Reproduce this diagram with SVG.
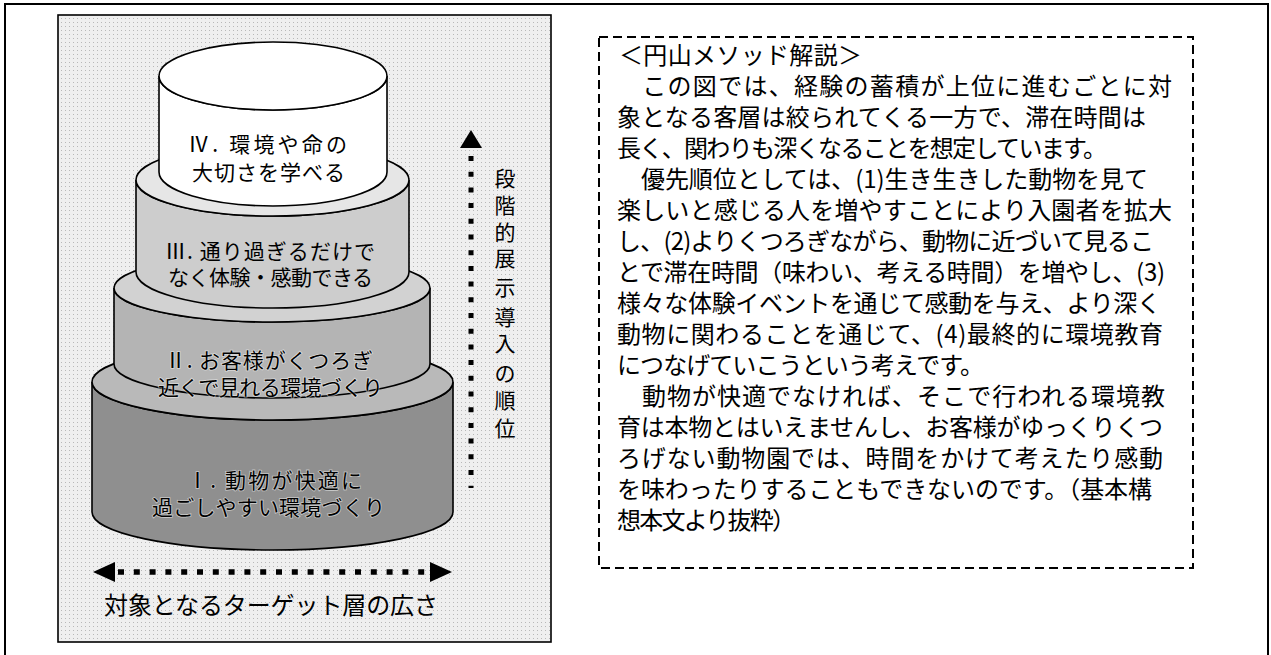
<svg xmlns="http://www.w3.org/2000/svg" width="1271" height="655" viewBox="0 0 1271 655">
<style>
.t{font-family:"Noto Sans CJK JP","Noto Sans CJK SC",sans-serif;fill:#000}
.lab{font-size:21px}
.lab2{font-size:21px;stroke:#ffffff;stroke-opacity:0.5;stroke-width:1.6px;paint-order:stroke}
.body{font-size:24px}
.cyl{stroke:#000;stroke-width:1.6}
.dots{fill:none;stroke:#000}
</style>
<defs>
<pattern id="stip" width="4" height="4" patternUnits="userSpaceOnUse">
<rect width="4" height="4" fill="#efefef"/>
<rect x="1" y="2" width="1" height="1" fill="#b8b8b8"/>
</pattern>
</defs>
<rect id="frame" x="5" y="4" width="1263" height="670" fill="#fff" stroke="#000" stroke-width="2"/>
<g id="leftpanel">
<rect x="58" y="15" width="493" height="627" fill="url(#stip)" stroke="#000" stroke-width="1.6"/>
</g>
<g id="layer1">
<path class="cyl" fill="#8f8f8f" d="M92,382 L92,512 A180.5,38 0 0 0 453,512 L453,382 A180.5,38 0 0 1 92,382 Z"/>
<ellipse class="cyl" fill="#b9b9b9" cx="272.5" cy="382" rx="180.5" ry="38"/>
</g>
<g id="layer2">
<path class="cyl" fill="#b4b4b4" d="M114,288 L114,364 A158,34 0 0 0 430,364 L430,288 A158,34 0 0 1 114,288 Z"/>
<ellipse class="cyl" fill="#d2d2d2" cx="272" cy="288" rx="158" ry="34"/>
</g>
<g id="layer3">
<path class="cyl" fill="#cdcdcd" d="M136,180 L136,272 A136.5,36 0 0 0 409,272 L409,180 A136.5,36 0 0 1 136,180 Z"/>
<ellipse class="cyl" fill="#e6e6e6" cx="272.5" cy="180" rx="136.5" ry="36"/>
</g>
<g id="layer4">
<path class="cyl" fill="#ffffff" d="M159,76 L159,172 A114,34 0 0 0 387,172 L387,76 A114,34 0 0 1 159,76 Z"/>
<ellipse class="cyl" fill="#ffffff" cx="273" cy="76" rx="114" ry="34"/>
</g>
<g id="labels">
<text class="t lab" x="188" y="152" textLength="159">Ⅳ. 環境や命の</text>
<text class="t lab" x="192" y="180" textLength="153">大切さを学べる</text>
<text class="t lab" x="165" y="259" textLength="210">Ⅲ. 通り過ぎるだけで</text>
<text class="t lab" x="168" y="285" textLength="205">なく体験・感動できる</text>
<text class="t lab2" x="165" y="368" textLength="208">Ⅱ. お客様がくつろぎ</text>
<text class="t lab2" x="158" y="395" textLength="225">近くで見れる環境づくり</text>
<text class="t lab2" x="187" y="488" textLength="175">Ⅰ. 動物が快適に</text>
<text class="t lab2" x="152" y="515" textLength="233">過ごしやすい環境づくり</text>
</g>
<g id="connectors">
<polygon points="471,130 482,148 460,148" fill="#000"/>
<line class="dots" x1="471" y1="156" x2="471" y2="488" stroke-width="5" stroke-dasharray="5 10.7"/>
<polygon points="93,572 115,562 115,582" fill="#000"/>
<polygon points="452,572 430,562 430,582" fill="#000"/>
<line class="dots" x1="118" y1="572" x2="428" y2="572" stroke-width="5.5" stroke-dasharray="6 9.8"/>
</g>
<g id="axislabels" class="t lab" text-anchor="middle">
<text x="505" y="186">段</text>
<text x="505" y="213">階</text>
<text x="505" y="240">的</text>
<text x="505" y="266">展</text>
<text x="505" y="295">示</text>
<text x="505" y="325">導</text>
<text x="505" y="351">入</text>
<text x="505" y="381">の</text>
<text x="505" y="408">順</text>
<text x="505" y="436">位</text>
</g>
<text id="widthlabel" class="t" font-size="24" x="104" y="614" textLength="334">対象となるターゲット層の広さ</text>
<g id="explanation">
<rect x="599" y="37" width="594" height="531" fill="#fff" stroke="#000" stroke-width="2" stroke-dasharray="9 5"/>
<g class="t body">
<text x="619" y="64" textLength="243">＜円山メソッド解説＞</text>
<text x="617" y="95" textLength="555">　この図では、経験の蓄積が上位に進むごとに対</text>
<text x="617" y="126" textLength="529">象となる客層は絞られてくる一方で、滞在時間は</text>
<text x="617" y="157" textLength="490">長く、関わりも深くなることを想定しています。</text>
<text x="617" y="188" textLength="531">　優先順位としては、(1)生き生きした動物を見て</text>
<text x="617" y="219" textLength="555">楽しいと感じる人を増やすことにより入園者を拡大</text>
<text x="617" y="250" textLength="537">し、(2)よりくつろぎながら、動物に近づいて見るこ</text>
<text x="617" y="281" textLength="548">とで滞在時間（味わい、考える時間）を増やし、(3)</text>
<text x="617" y="312" textLength="544">様々な体験イベントを通じて感動を与え、より深く</text>
<text x="617" y="343" textLength="546">動物に関わることを通じて、(4)最終的に環境教育</text>
<text x="617" y="374" textLength="367">につなげていこうという考えです。</text>
<text x="617" y="405" textLength="548">　動物が快適でなければ、そこで行われる環境教</text>
<text x="617" y="436" textLength="546">育は本物とはいえませんし、お客様がゆっくりくつ</text>
<text x="617" y="467" textLength="546">ろげない動物園では、時間をかけて考えたり感動</text>
<text x="617" y="498" textLength="535">を味わったりすることもできないのです。（基本構</text>
<text x="617" y="529" textLength="179">想本文より抜粋）</text>
</g>
</g>
</svg>
